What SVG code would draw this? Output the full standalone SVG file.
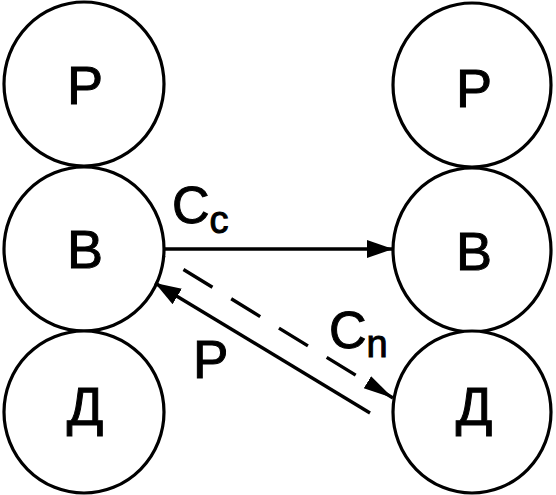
<svg xmlns="http://www.w3.org/2000/svg" width="556" height="495" viewBox="0 0 556 495">
<style>
.n ellipse{fill:#fff;stroke:#000;stroke-width:3.2}
.n text{font-family:"Liberation Sans",Arial,sans-serif;font-size:54px;text-anchor:middle;fill:#000;stroke:#000;stroke-width:1}
.lbl{font-family:"Liberation Sans",Arial,sans-serif;fill:#000;stroke:#000;stroke-width:1}
.c line{stroke:#000;stroke-width:3.4;fill:none}
</style>
<defs>
<marker id="ah" markerUnits="userSpaceOnUse" markerWidth="30" markerHeight="22" refX="26" refY="10" orient="auto">
<path d="M0,1 L26,10 L0,19 Z" fill="#000"/>
</marker>
<marker id="ah2" markerUnits="userSpaceOnUse" markerWidth="34" markerHeight="22" refX="30" refY="10" orient="auto">
<path d="M0,3 L30,10 L0,17 Z" fill="#000"/>
</marker>
</defs>
<g id="left-P" class="n"><ellipse cx="84" cy="84" rx="80" ry="82"/><text x="85" y="104">Р</text></g>
<g id="left-B" class="n"><ellipse cx="84" cy="249" rx="80" ry="82"/><text x="85" y="268">В</text></g>
<g id="left-D" class="n"><ellipse cx="84" cy="412" rx="80" ry="81"/><text x="85" y="425">Д</text></g>
<g id="right-P" class="n"><ellipse cx="472" cy="85" rx="79" ry="82"/><text x="474" y="107">Р</text></g>
<g id="right-B" class="n"><ellipse cx="472" cy="250" rx="79" ry="82"/><text x="474" y="270">В</text></g>
<g id="right-D" class="n"><ellipse cx="472" cy="412" rx="79" ry="81"/><text x="474" y="425">Д</text></g>
<g id="connectors" class="c">
<line x1="163" y1="249" x2="393" y2="249" marker-end="url(#ah)"/>
<line x1="163" y1="257" x2="393" y2="398" stroke-dasharray="34 22" stroke-dashoffset="32" marker-end="url(#ah2)"/>
<line x1="370" y1="413" x2="155" y2="283" marker-end="url(#ah)"/>
</g>
<g id="labels" class="lbl">
<text x="172" y="223" font-size="52">C<tspan font-size="38" dy="10">c</tspan></text>
<text x="329" y="348" font-size="52">C<tspan font-size="38" dy="9">n</tspan></text>
<text x="193" y="378" font-size="53">P</text>
</g>
</svg>
